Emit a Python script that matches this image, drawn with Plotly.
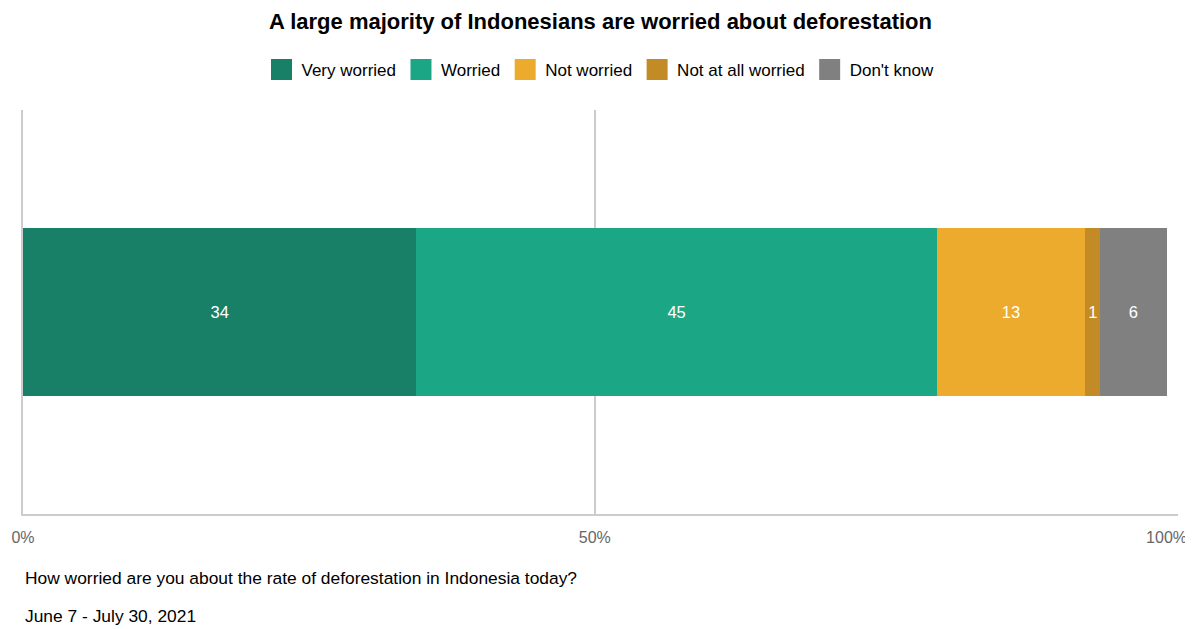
import plotly.graph_objects as go

categories = ["Indonesia"]
series_names = ["Very worried", "Worried", "Not worried", "Not at all worried", "Don't know"]
series_values = [34.4, 45.5, 13.0, 1.3, 5.8]
series_labels = ["34", "45", "13", "1", "6"]
series_colors = ["#178067", "#1ba785", "#ecab2d", "#c28b26", "#808080"]
tick_values = [0, 50, 100]
tick_labels = ["0%", "50%", "100%"]

FONT = "Liberation Sans, Arial, Helvetica, sans-serif"

fig = go.Figure()
for name, val, lab, col in zip(series_names, series_values, series_labels, series_colors):
    fig.add_trace(go.Bar(
        y=categories, x=[val], name=name, orientation="h",
        marker=dict(color=col, line=dict(width=0)),
        text=[lab], textposition="inside", insidetextanchor="middle",
        textfont=dict(color="white", size=16.5, family=FONT),
        width=0.415, hoverinfo="skip", showlegend=False,
    ))
    # legend swatch (larger square)
    fig.add_trace(go.Scatter(
        x=[None], y=[None], mode="markers", name=name,
        marker=dict(symbol="square", size=16, color=col, line=dict(color=col, width=5)),
        showlegend=True, hoverinfo="skip",
    ))

fig.add_trace(go.Scatter(x=[0, 100], y=categories * 2, mode="markers",
                         marker=dict(opacity=0), xaxis="x2", showlegend=False,
                         hoverinfo="skip"))

# The page body has an 8px margin, so the figure is 8px smaller and margins shifted.
fig.update_layout(
    width=1185, height=621,
    barmode="stack",
    paper_bgcolor="white", plot_bgcolor="white",
    margin=dict(l=15, r=15, t=102, b=115, autoexpand=False),
    font=dict(family=FONT, color="#000"),
    title=dict(text="<b>A large majority of Indonesians are worried about deforestation</b>",
               x=0.5, xanchor="center", y=0.979, yanchor="middle",
               font=dict(size=22, family=FONT, color="#000")),
    legend=dict(orientation="h", x=0.5, xanchor="center", y=1.099, yanchor="middle",
                font=dict(size=17, family=FONT, color="#000"), traceorder="normal",
                itemwidth=30),
    uniformtext=dict(mode="show", minsize=16),
    xaxis=dict(range=[0, 101], tickvals=[0, 50], showticklabels=False,
               showgrid=True, gridcolor="#cccccc", gridwidth=1.5,
               zeroline=False, showline=True, linecolor="#cccccc", linewidth=2,
               fixedrange=True, automargin=False),
    xaxis2=dict(range=[0, 101], overlaying="x", side="bottom", anchor="y",
                tickvals=tick_values, ticktext=tick_labels, showgrid=False,
                zeroline=False, showline=False, ticks="outside", ticklen=9,
                tickcolor="rgba(0,0,0,0)", automargin=False,
                tickfont=dict(size=16, family=FONT, color="#666666")),
    yaxis=dict(range=[-0.5, 0.5], showticklabels=False, showgrid=False,
               zeroline=False, showline=True, linecolor="#cccccc", linewidth=1.5,
               fixedrange=True, automargin=False),
    showlegend=True,
)

fig.add_annotation(text="How worried are you about the rate of deforestation in Indonesia today?",
                   xref="paper", yref="paper", x=0, y=-0.158, xanchor="left", yanchor="middle",
                   showarrow=False, font=dict(size=17.4, family=FONT, color="#000"))
fig.add_annotation(text="June 7 - July 30, 2021",
                   xref="paper", yref="paper", x=0, y=-0.252, xanchor="left", yanchor="middle",
                   showarrow=False, font=dict(size=17.4, family=FONT, color="#000"))

fig.write_html("out.html")
